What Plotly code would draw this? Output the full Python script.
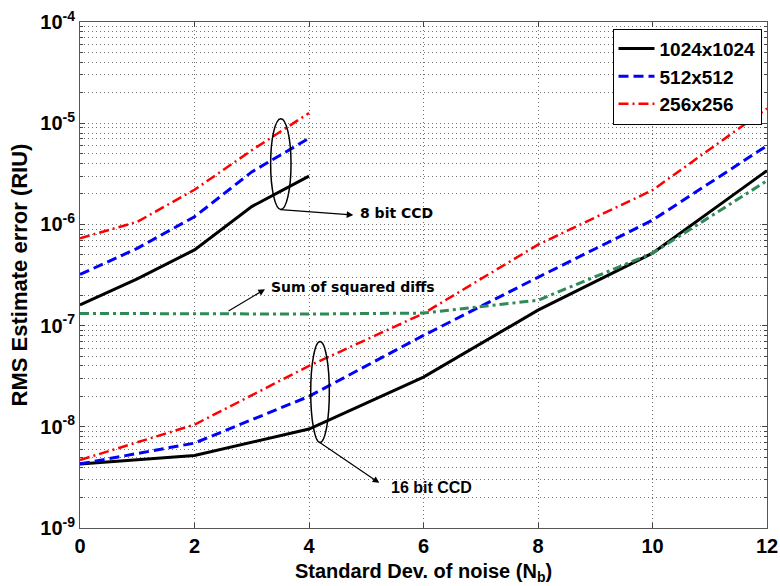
import plotly.graph_objects as go

# ---- data ----
x_8bit = [0, 1, 2, 3, 4]
ccd8_1024 = [1.6e-7, 2.9e-7, 5.6e-7, 1.5e-6, 3.0e-6]
ccd8_512 = [3.2e-7, 5.8e-7, 1.19e-6, 3.3e-6, 7.1e-6]
ccd8_256 = [7.3e-7, 1.06e-6, 2.2e-6, 5.4e-6, 1.26e-5]

x_16bit = [0, 2, 4, 6, 8, 10, 12]
ccd16_1024 = [4.3e-9, 5.2e-9, 9.5e-9, 3.1e-8, 1.42e-7, 5.2e-7, 3.4e-6]
ccd16_512 = [4.3e-9, 6.9e-9, 2.0e-8, 8.0e-8, 3.0e-7, 1.1e-6, 6.0e-6]
ccd16_256 = [4.7e-9, 1.05e-8, 4.0e-8, 1.32e-7, 6.3e-7, 2.18e-6, 1.4e-5]
ssd_vals = [1.32e-7, 1.32e-7, 1.30e-7, 1.33e-7, 1.78e-7, 5.2e-7, 2.7e-6]

series_names = ["1024x1024", "512x512", "256x256"]
y_decades = [-9, -8, -7, -6, -5, -4]
x_ticks = [0, 2, 4, 6, 8, 10, 12]
X_RANGE = [0, 12]
Y_LOG_RANGE = [-9, -4]

styles = {
    "1024x1024": dict(color="black", width=3, dash="solid"),
    "512x512": dict(color="#0000ff", width=3, dash="10px,5px"),
    "256x256": dict(color="#ff0000", width=2.5, dash="10px,4px,2px,4px"),
}

fig = go.Figure()
for name, y8, y16 in zip(series_names, [ccd8_1024, ccd8_512, ccd8_256],
                         [ccd16_1024, ccd16_512, ccd16_256]):
    fig.add_trace(go.Scatter(x=x_8bit, y=y8, mode="lines", name=name,
                             legendgroup=name, line=styles[name]))
    fig.add_trace(go.Scatter(x=x_16bit, y=y16, mode="lines", name=name,
                             legendgroup=name, showlegend=False, line=styles[name]))

fig.add_trace(go.Scatter(x=x_16bit, y=ssd_vals, mode="lines", name="Sum of squared diffs",
                         showlegend=False,
                         line=dict(color="#2e8b57", width=3, dash="9px,4px,3px,4px")))

grid_col = "rgba(0,0,0,0.55)"
grid_dash = "1px,3px"
minor_vals = [k * 10 ** e for e in range(-9, -4) for k in range(2, 10)]
font_fam = "Liberation Sans, Arial, sans-serif"

fig.update_xaxes(range=X_RANGE, tickvals=x_ticks, ticks="inside", ticklen=5,
                 automargin=False,
                 showline=True, linecolor="#555", linewidth=1, mirror="ticks",
                 showgrid=True, gridcolor=grid_col, griddash=grid_dash, gridwidth=1,
                 zeroline=False,
                 tickfont=dict(family=font_fam, size=20, color="black", weight="bold"))
fig.update_yaxes(type="log", range=Y_LOG_RANGE,
                 automargin=False,
                 tickvals=[10 ** d for d in y_decades],
                 ticktext=["10<sup>%d</sup>" % d for d in y_decades],
                 ticks="inside", ticklen=5,
                 showline=True, linecolor="#555", linewidth=1, mirror="ticks",
                 showgrid=True, gridcolor=grid_col, griddash=grid_dash, gridwidth=1,
                 minor=dict(tickvals=minor_vals, ticks="inside", ticklen=3,
                            showgrid=True, gridcolor=grid_col, griddash=grid_dash,
                            gridwidth=1),
                 tickfont=dict(family=font_fam, size=20, color="black", weight="bold"),
                 title=dict(text="RMS Estimate error (RIU)", standoff=6,
                            font=dict(family=font_fam, size=22, color="black",
                                      weight="bold")))

# x-axis title placed under the tick labels
fig.add_annotation(x=0.5, y=-0.087, xref="paper", yref="paper", yanchor="middle",
                   text="Standard Dev. of noise (N<sub>b</sub>)", showarrow=False,
                   font=dict(family=font_fam, size=20, color="black", weight="bold"))


def xd(v):
    return (v - X_RANGE[0]) / (X_RANGE[1] - X_RANGE[0])


def yd(logv):
    return (logv - Y_LOG_RANGE[0]) / (Y_LOG_RANGE[1] - Y_LOG_RANGE[0])


# ellipses marking the 8-bit and 16-bit groups (x in data units, y in log10 units)
ellipses = [(3.33, 3.686, -5.852, -4.955), (4.03, 4.355, -8.154, -7.158)]
for ex0, ex1, ey0, ey1 in ellipses:
    fig.add_shape(type="circle", xref="x domain", yref="y domain",
                  x0=xd(ex0), x1=xd(ex1), y0=yd(ey0), y1=yd(ey1),
                  line=dict(color="black", width=1.5))

ann_font = dict(family="DejaVu Sans", size=14, color="black", weight="bold")
arrows = [
    (4.774, -5.908, 3.476, -5.852),
    (3.231, -6.641, 2.568, -6.865),
    (5.228, -8.554, 4.162, -8.144),
]
for hx, hy, tx, ty in arrows:
    fig.add_annotation(x=hx, y=hy, ax=tx, ay=ty, xref="x", yref="y", axref="x", ayref="y",
                       text="", showarrow=True, arrowhead=2, arrowsize=1.1, arrowwidth=1.2,
                       arrowcolor="black")
fig.add_annotation(x=4.856, y=-5.886, text="8 bit CCD", showarrow=False, xanchor="left",
                   xref="x", yref="y", font=ann_font)
fig.add_annotation(x=3.301, y=-6.615, text="Sum of squared diffs", showarrow=False,
                   xanchor="left", xref="x", yref="y", font=ann_font)
fig.add_annotation(x=5.397, y=-8.598, text="16 bit CCD", showarrow=False, xanchor="left",
                   xref="x", yref="y",
                   font=dict(family=font_fam, size=16, color="black", weight="bold"))

fig.update_layout(
    width=780, height=586,
    margin=dict(l=80, r=13, t=22, b=58),
    paper_bgcolor="white", plot_bgcolor="white",
    legend=dict(x=0.992, y=0.987, xanchor="right", yanchor="top",
                bgcolor="white", bordercolor="black", borderwidth=1,
                font=dict(family=font_fam, size=19, color="black", weight="bold"),
                tracegroupgap=0, itemwidth=36),
    showlegend=True,
)

fig.write_html("out.html")
